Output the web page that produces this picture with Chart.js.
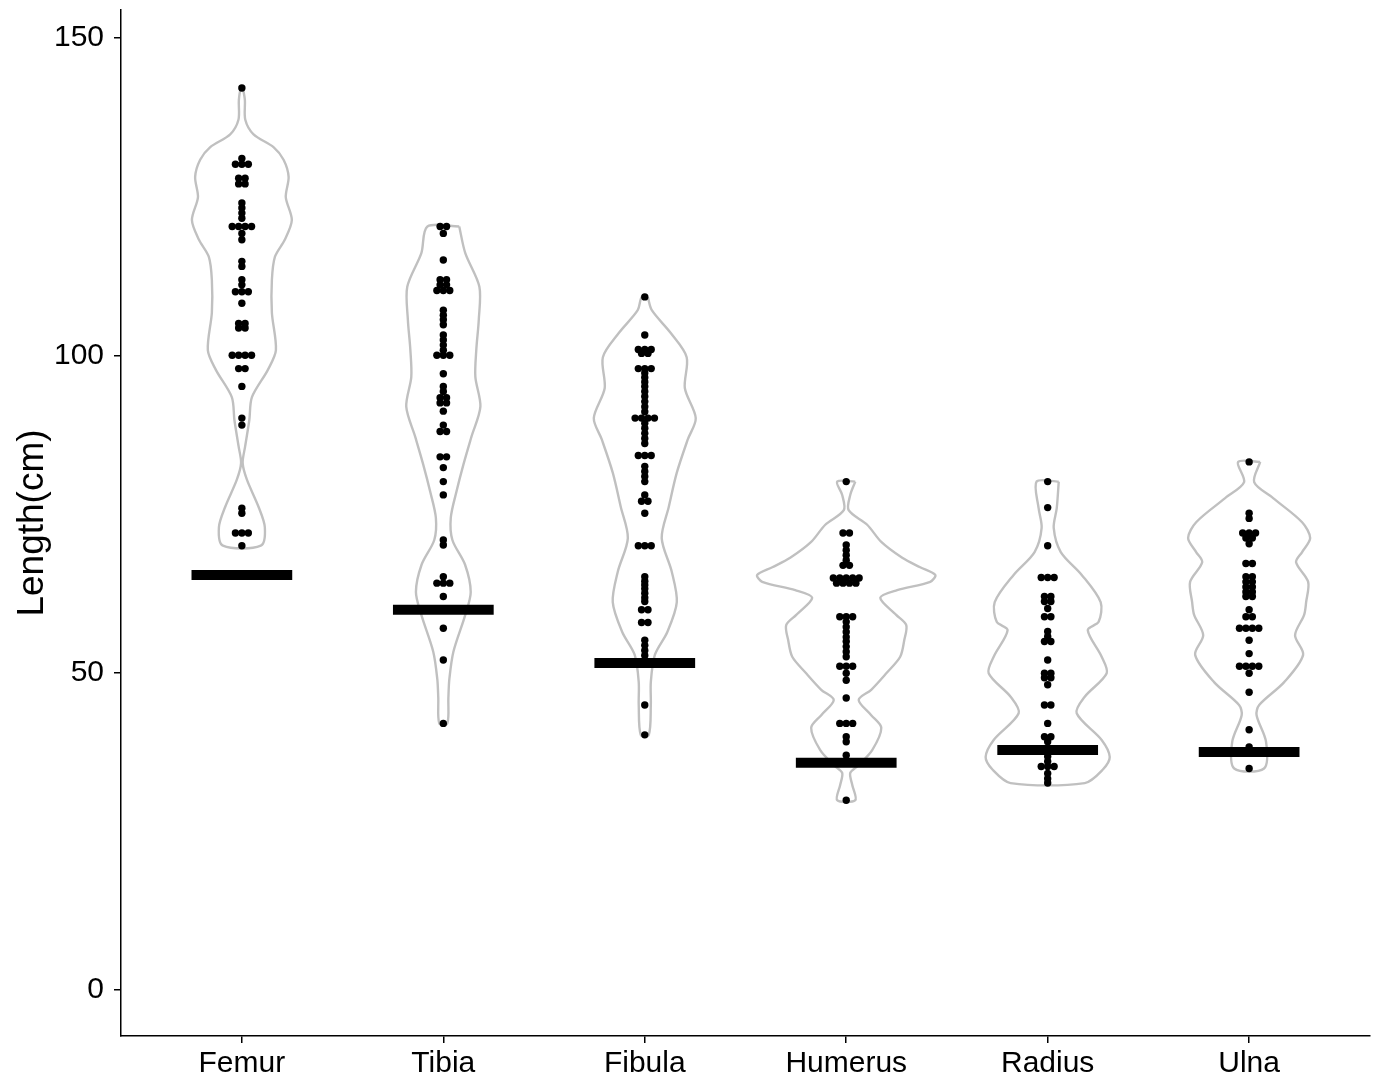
<!DOCTYPE html>
<html>
<head>
<meta charset="utf-8">
<script src="https://cdn.jsdelivr.net/npm/chart.js@4.4.1/dist/chart.umd.min.js"></script>
<style>
  html, body { margin: 0; padding: 0; background: #fff; }
  #wrap { width: 1381px; height: 1078px; }
</style>
</head>
<body>
<div id="wrap"><canvas id="chart" width="1381" height="1078"></canvas></div>
<script>
const bones = ['Femur', 'Tibia', 'Fibula', 'Humerus', 'Radius', 'Ulna']
const yTicks = [0, 50, 100, 150]

// measured lengths (cm), one entry per specimen
const femur = [142.1, 131.0, 130.1, 130.1, 130.1, 127.9, 127.9, 127.0, 127.0, 124.0, 123.2, 122.4, 121.6,
  120.3, 120.3, 120.3, 120.3, 119.2, 118.2, 114.8, 114.0, 111.9, 111.1, 110.0, 110.0, 110.0, 108.2,
  105.0, 105.0, 104.3, 104.3, 100.0, 100.0, 100.0, 100.0, 97.9, 97.9, 95.1, 90.1, 89.0, 75.9, 75.1,
  72.0, 72.0, 72.0, 70.0]
const tibia = [120.3, 120.3, 119.2, 115.0, 111.9, 111.9, 111.1, 111.1, 110.2, 110.2, 110.2, 107.1, 106.3,
  105.6, 104.8, 103.2, 102.4, 101.6, 100.8, 100.0, 100.0, 100.0, 97.1, 95.1, 94.3, 93.3, 93.3, 92.5, 92.5,
  91.2, 89.0, 88.0, 88.0, 84.0, 84.0, 82.3, 80.1, 78.0, 70.9, 70.1, 65.1, 64.1, 64.1, 64.1, 62.0, 57.0,
  52.0, 42.0]
const fibula = [109.2, 103.2, 100.9, 100.9, 100.9, 100.3, 100.3, 97.9, 97.9, 97.9, 97.2, 96.5, 95.8, 95.1,
  94.3, 93.5, 92.7, 91.9, 91.1, 90.1, 90.1, 90.1, 90.1, 89.3, 88.5, 87.7, 86.9, 86.1, 84.2, 84.2, 84.2,
  82.5, 81.7, 80.9, 80.1, 78.0, 77.0, 77.0, 75.1, 70.0, 70.0, 70.0, 65.1, 64.4, 63.8, 63.2, 62.5, 61.8,
  61.2, 59.9, 59.9, 57.9, 57.9, 55.1, 54.3, 53.5, 52.7, 44.9, 40.2]
const humerus = [80.1, 72.0, 72.0, 70.1, 69.3, 68.5, 67.7, 66.9, 66.9, 64.9, 64.9, 64.9, 64.9, 64.9,
  64.1, 64.1, 64.1, 64.1, 58.8, 58.8, 58.8, 58.0, 57.2, 56.4, 55.6, 54.9, 54.1, 53.3, 52.5, 51.0, 51.0,
  51.0, 49.9, 48.8, 46.0, 42.0, 42.0, 42.0, 39.9, 39.1, 37.0, 29.9]
const radius = [80.1, 76.0, 70.0, 65.0, 65.0, 65.0, 62.0, 62.0, 61.2, 61.2, 60.1, 58.8, 58.8, 56.5, 55.7,
  54.9, 54.9, 52.0, 49.9, 49.9, 49.2, 49.2, 48.1, 44.9, 44.9, 42.0, 39.9, 39.9, 39.1, 36.8, 36.0, 35.2,
  35.2, 35.2, 34.1, 33.3, 32.6]
const ulna = [83.2, 75.1, 74.3, 72.0, 72.0, 72.0, 71.2, 71.2, 70.3, 67.2, 67.2, 65.1, 65.1, 64.3, 64.3,
  63.5, 63.5, 62.7, 62.7, 62.0, 62.0, 59.9, 58.8, 58.8, 57.0, 57.0, 57.0, 57.0, 55.1, 53.0, 51.0, 51.0,
  51.0, 51.0, 49.9, 46.9, 41.0, 38.3, 34.9]

// violin outlines: [length, half width in category units], top to bottom
const femurViolin = [[142.1, 0.005], [140.2, 0.015], [137.1, 0.017], [134.8, 0.058], [132.8, 0.157],
  [130.8, 0.207], [128.1, 0.232], [124.9, 0.218], [121.3, 0.248], [118.2, 0.213], [115.5, 0.164],
  [111.9, 0.149], [106.7, 0.149], [100.8, 0.169], [97.7, 0.129], [93.4, 0.050], [89.8, 0.037],
  [85.6, 0.016], [83.0, 0.004], [80.4, 0.025], [76.1, 0.083], [72.9, 0.114], [70.0, 0.094]]
const tibiaViolin = [[120.3, 0.079], [116.1, 0.109], [110.8, 0.179], [105.6, 0.176], [101.0, 0.164],
  [96.6, 0.159], [91.9, 0.184], [87.1, 0.139], [82.7, 0.099], [78.5, 0.065], [74.4, 0.037],
  [70.9, 0.045], [67.0, 0.108], [62.7, 0.136], [59.1, 0.109], [53.3, 0.050], [49.0, 0.030],
  [46.0, 0.025], [42.0, 0.020]]
const fibulaViolin = [[109.2, 0.015], [107.1, 0.035], [103.5, 0.129], [99.7, 0.208], [94.8, 0.199],
  [90.1, 0.253], [86.7, 0.213], [81.5, 0.159], [76.1, 0.119], [71.2, 0.084], [65.9, 0.134],
  [61.1, 0.159], [56.4, 0.112], [52.8, 0.050], [48.5, 0.030], [44.9, 0.030], [40.2, 0.020]]
const humerusViolin = [[80.1, 0.045], [78.0, 0.020], [75.6, 0.012], [73.3, 0.104], [70.6, 0.174],
  [68.1, 0.278], [66.6, 0.367], [65.4, 0.442], [64.3, 0.417], [63.0, 0.253], [61.8, 0.169],
  [59.1, 0.248], [57.5, 0.298], [55.1, 0.288], [52.5, 0.268], [49.9, 0.199], [47.3, 0.124],
  [45.7, 0.062], [43.3, 0.124], [41.3, 0.174], [37.8, 0.129], [35.4, 0.060], [34.2, 0.020],
  [32.3, 0.030], [29.9, 0.045]]
const radiusViolin = [[80.1, 0.055], [75.9, 0.045], [72.8, 0.030], [69.0, 0.065], [65.4, 0.169],
  [61.1, 0.263], [58.0, 0.253], [56.7, 0.199], [52.5, 0.268], [49.9, 0.293], [46.2, 0.184],
  [43.6, 0.144], [39.4, 0.268], [36.7, 0.308], [34.7, 0.273], [32.6, 0.184]]
const ulnaViolin = [[83.2, 0.055], [80.0, 0.025], [77.5, 0.119], [73.7, 0.263], [71.2, 0.303],
  [69.0, 0.263], [67.4, 0.233], [64.3, 0.293], [61.1, 0.283], [59.1, 0.273], [55.9, 0.228],
  [52.8, 0.268], [48.5, 0.174], [44.9, 0.050], [43.3, 0.037], [39.1, 0.084], [34.9, 0.074]]

// thick horizontal reference marks, one per bone
const refLengths = [65.4, 59.9, 51.5, 35.8, 37.8, 37.5]

const lengths = [femur, tibia, fibula, humerus, radius, ulna]
const violins = [femurViolin, tibiaViolin, fibulaViolin, humerusViolin, radiusViolin, ulnaViolin]

const DOT_STEP = 0.032 // horizontal spacing of stacked dots, category units
const REF_HALF = 0.25

// closed outline: down the right side, back up the left side
const outline = (prof, c) => [
  ...prof.map(([y, w]) => ({ x: c + w, y })),
  ...prof.slice().reverse().map(([y, w]) => ({ x: c - w, y })),
  { x: c + prof[0][1], y: prof[0][0] }
]

const violinSets = violins.map((prof, i) => ({
  data: outline(prof, i + 1),
  showLine: true,
  borderColor: '#c0c0c0',
  borderWidth: 2.4,
  pointRadius: 0,
  tension: 0.3,
  fill: false,
  order: 3
}))

// dots sharing a value are stacked side by side, centred on the category
const dotPoints = []
lengths.forEach((vals, i) => {
  const counts = new Map()
  vals.forEach(v => counts.set(v, (counts.get(v) || 0) + 1))
  counts.forEach((n, v) => {
    for (let k = 0; k < n; k++) dotPoints.push({ x: i + 1 + (k - (n - 1) / 2) * DOT_STEP, y: v })
  })
})

const refSets = refLengths.map((v, i) => ({
  data: [{ x: i + 1 - REF_HALF, y: v }, { x: i + 1 + REF_HALF, y: v }],
  showLine: true,
  borderColor: '#000',
  borderWidth: 10,
  borderCapStyle: 'butt',
  pointRadius: 0,
  order: 1
}))

const fontFamily = '"Liberation Sans", Arial, sans-serif'
const tickFont = { family: fontFamily, size: 30 }

new Chart(document.getElementById('chart'), {
  type: 'scatter',
  data: {
    datasets: [
      ...violinSets,
      { data: dotPoints, pointRadius: 3.7, pointBackgroundColor: '#000', pointBorderWidth: 0, order: 2 },
      ...refSets
    ]
  },
  options: {
    responsive: false,
    animation: false,
    layout: { padding: { left: 0, top: 10, right: 11, bottom: 0 } },
    plugins: { legend: { display: false }, tooltip: { enabled: false } },
    scales: {
      x: {
        type: 'linear',
        min: 0.4,
        max: 6.6,
        afterBuildTicks: s => { s.ticks = bones.map((b, i) => ({ value: i + 1 })) },
        afterFit: s => { s.height = 42; s.paddingLeft = 0; s.paddingRight = 0 },
        ticks: {
          autoSkip: false,
          maxRotation: 0,
          padding: 3,
          color: '#000',
          font: tickFont,
          callback: v => bones[v - 1]
        },
        grid: { drawOnChartArea: false, drawTicks: true, tickLength: 7, color: '#000', lineWidth: 1.5 },
        border: { display: true, color: '#000', width: 1.5 }
      },
      y: {
        type: 'linear',
        min: -7.25,
        max: 154.4,
        afterBuildTicks: s => { s.ticks = yTicks.map(v => ({ value: v })) },
        afterFit: s => { s.width = 121; s.paddingTop = 0; s.paddingBottom = 0 },
        ticks: { padding: 10, color: '#000', font: tickFont },
        grid: { drawOnChartArea: false, drawTicks: true, tickLength: 7, color: '#000', lineWidth: 1.5 },
        border: { display: true, color: '#000', width: 1.5 },
        title: {
          display: true,
          text: 'Length(cm)',
          color: '#000',
          font: { family: fontFamily, size: 37 },
          padding: { top: 11, bottom: 0 }
        }
      }
    }
  }
})
</script>
</body>
</html>
